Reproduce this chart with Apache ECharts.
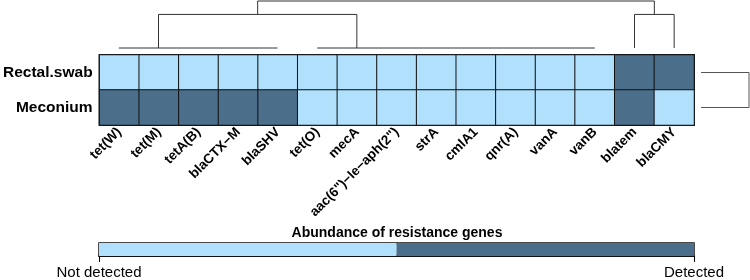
<!DOCTYPE html>
<html>
<head>
<meta charset="utf-8">
<script src="https://cdn.jsdelivr.net/npm/echarts@6/dist/echarts.min.js"></script>
<style>
  html, body { margin: 0; padding: 0; background: #fff; }
  #chart { width: 750px; height: 280px; }
</style>
</head>
<body>
<div id="chart"></div>
<script>
// genes (columns) and samples (rows)
const genes = ['tet(W)', 'tet(M)', 'tetA(B)', 'blaCTX\u2212M', 'blaSHV', 'tet(O)', 'mecA',
  'aac(6")\u2212Ie\u2212aph(2")', 'strA', 'cmlA1', 'qnr(A)', 'vanA', 'vanB', 'blatem', 'blaCMY'];
const samples = ['Rectal.swab', 'Meconium'];

// 0 = not detected, 1 = detected
const rectalSwab = [0, 0, 0, 0, 0, 0, 0, 0, 0, 0, 0, 0, 0, 1, 1];
const meconium = [1, 1, 1, 1, 1, 0, 0, 0, 0, 0, 0, 0, 0, 1, 0];

// column dendrogram segments: [x1, h1, x2, h2] (x = gene index, h = merge height)
const colTree = [
  [0, 0, 4, 0], [5, 0, 12, 0],
  [1, 0, 1, 1], [1, 1, 6, 1], [6, 0, 6, 1],
  [13, 0, 13, 1], [13, 1, 14, 1], [14, 0, 14, 1],
  [3.5, 1, 3.5, 1.4], [3.5, 1.4, 13.5, 1.4], [13.5, 1.4, 13.5, 1]
];
// row dendrogram segments: [h1, row1, h2, row2]
const rowTree = [[0, 0, 1, 0], [1, 0, 1, 1], [0, 1, 1, 1]];

// legend bar pieces: [from, to, level]
const legendPieces = [[0, 0.5, 0], [0.5, 1, 1]];
const legendTicks = ['Not detected', 'Detected'];

const light = '#b1e0fc';
const dark = '#4b6e8a';

const cells = [];
rectalSwab.forEach((v, i) => cells.push([i, 0, v]));
meconium.forEach((v, i) => cells.push([i, 1, v]));

const lineRender = (color) => (params, api) => {
  const p1 = api.coord([api.value(0), api.value(1)]);
  const p2 = api.coord([api.value(2), api.value(3)]);
  return {
    type: 'line',
    shape: { x1: p1[0], y1: p1[1], x2: p2[0], y2: p2[1] },
    style: { stroke: color, lineWidth: 1 }
  };
};

const chart = echarts.init(document.getElementById('chart'));

chart.setOption({
  animation: false,
  textStyle: { fontFamily: 'Liberation Sans, Arial, sans-serif' },
  title: {
    text: 'Abundance of resistance genes',
    left: 397, top: 226, textAlign: 'center', padding: 0,
    textStyle: { fontSize: 14, fontWeight: 'bold', color: '#000' }
  },
  grid: [
    { left: 99, top: 55, width: 595, height: 70, show: true, borderColor: '#111', borderWidth: 2, backgroundColor: 'transparent' },
    { left: 99, top: 1, width: 595, height: 47 },
    { left: 701, top: 55, width: 48, height: 70 },
    { left: 99, top: 243, width: 595, height: 13, show: true, borderColor: '#111', borderWidth: 1.5, backgroundColor: 'transparent' }
  ],
  xAxis: [
    {
      gridIndex: 0, type: 'category', data: genes,
      axisLine: { show: false },
      axisTick: { alignWithLabel: true, length: 3, lineStyle: { color: '#000' } },
      axisLabel: { rotate: 45, margin: 5, fontSize: 13.5, fontWeight: 'bold', color: '#000', interval: 0 }
    },
    { gridIndex: 1, type: 'value', min: -0.5, max: 14.5, show: false },
    { gridIndex: 2, type: 'value', min: 0, max: 1, show: false },
    {
      gridIndex: 3, type: 'value', min: 0, max: 1, interval: 1,
      axisLine: { show: true, lineStyle: { color: '#000', width: 1.5 } },
      axisTick: { show: true, length: 6, lineStyle: { color: '#000' } },
      splitLine: { show: false },
      axisLabel: {
        margin: 9, fontSize: 15, color: '#000',
        formatter: (v) => legendTicks[v]
      }
    }
  ],
  yAxis: [
    {
      gridIndex: 0, type: 'category', data: samples, inverse: true,
      axisLine: { show: false },
      axisTick: { alignWithLabel: true, length: 2, lineStyle: { color: '#000' } },
      axisLabel: { margin: 7, fontSize: 15.5, fontWeight: 'bold', color: '#000' }
    },
    { gridIndex: 1, type: 'value', min: 0, max: 1.4, show: false },
    { gridIndex: 2, type: 'category', data: samples, inverse: true, show: false },
    { gridIndex: 3, type: 'value', min: 0, max: 1, show: false }
  ],
  visualMap: {
    show: false, type: 'piecewise', seriesIndex: 0, dimension: 2,
    pieces: [{ value: 0, color: light }, { value: 1, color: dark }]
  },
  series: [
    {
      type: 'heatmap', xAxisIndex: 0, yAxisIndex: 0, data: cells,
      itemStyle: { borderColor: '#111', borderWidth: 1 },
      emphasis: { disabled: true }
    },
    {
      type: 'custom', xAxisIndex: 1, yAxisIndex: 1, data: colTree,
      renderItem: lineRender('#333')
    },
    {
      type: 'custom', xAxisIndex: 2, yAxisIndex: 2, data: rowTree,
      renderItem: lineRender('#555')
    },
    {
      type: 'custom', xAxisIndex: 3, yAxisIndex: 3, data: legendPieces,
      renderItem: (params, api) => {
        const p1 = api.coord([api.value(0), 1]);
        const p2 = api.coord([api.value(1), 0]);
        return {
          type: 'rect',
          shape: { x: p1[0], y: p1[1], width: p2[0] - p1[0], height: p2[1] - p1[1] },
          style: { fill: api.value(2) ? dark : light }
        };
      }
    }
  ]
});
</script>
</body>
</html>
